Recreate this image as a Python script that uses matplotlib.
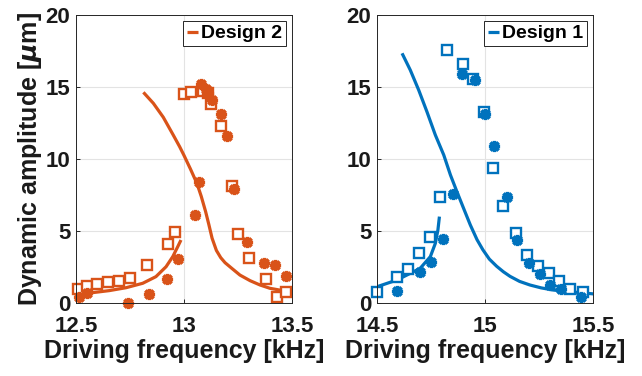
import matplotlib.pyplot as plt

plt.rcParams["font.family"] = ["Liberation Sans", "DejaVu Sans"]
plt.rcParams["font.weight"] = "bold"

orange = "#D95319"
blue = "#0072BD"

# Design 2 (left panel)
d2_sq_f = [12.511, 12.549, 12.599, 12.65, 12.70, 12.75, 12.83, 12.927, 12.96, 13.0, 13.032,
           13.09, 13.11, 13.125, 13.17, 13.22, 13.25, 13.30, 13.38, 13.43, 13.47]
d2_sq_a = [0.95, 1.18, 1.32, 1.43, 1.53, 1.71, 2.64, 4.07, 4.9, 14.49, 14.68,
           14.75, 14.55, 13.8, 12.29, 8.15, 4.79, 3.1, 1.64, 0.44, 0.79]
d2_st_f = [12.515, 12.55, 12.74, 12.84, 12.92, 12.97, 13.05, 13.07, 13.08, 13.10, 13.11,
           13.13, 13.17, 13.20, 13.23, 13.29, 13.37, 13.42, 13.47]
d2_st_a = [0.44, 0.67, 0.02, 0.6, 1.67, 3.05, 6.1, 8.43, 15.19, 14.84, 14.56,
           14.1, 13.1, 11.6, 7.9, 4.21, 2.75, 2.64, 1.9]
d2_lo_f = [12.49, 12.5, 12.577, 12.654, 12.731, 12.809, 12.87, 12.917, 12.948, 12.971, 12.986]
d2_lo_a = [0.55, 0.56, 0.72, 0.86, 1.06, 1.37, 1.83, 2.52, 3.22, 3.91, 4.375]
d2_up_f = [12.812, 12.858, 12.904, 12.95, 12.98, 13.0, 13.03, 13.06, 13.08, 13.10, 13.115,
           13.13, 13.15, 13.17, 13.19, 13.221, 13.259, 13.306, 13.352, 13.398, 13.45, 13.51]
d2_up_a = [14.63, 13.87, 12.9, 11.67, 10.85, 10.25, 9.3, 8.3, 7.4, 6.35, 5.45,
           4.5, 3.65, 3.15, 2.8, 2.41, 1.94, 1.55, 1.25, 1.02, 0.88, 0.77]

# Design 1 (right panel)
d1_sq_f = [14.50, 14.594, 14.645, 14.696, 14.745, 14.79, 14.823, 14.897, 14.943, 14.995,
           15.036, 15.085, 15.144, 15.193, 15.247, 15.296, 15.344, 15.394, 15.452]
d1_sq_a = [0.74, 1.83, 2.34, 3.45, 4.56, 7.34, 17.57, 16.57, 15.53, 13.29,
           9.35, 6.76, 4.84, 3.33, 2.59, 2.06, 1.53, 0.95, 0.79]
d1_st_f = [14.594, 14.70, 14.75, 14.804, 14.853, 14.892, 14.954, 15.0, 15.043, 15.10,
           15.15, 15.205, 15.255, 15.30, 15.35, 15.443]
d1_st_a = [0.86, 2.18, 2.87, 4.42, 7.55, 15.9, 15.49, 13.1, 10.9, 7.38,
           4.37, 2.75, 1.99, 1.25, 0.95, 0.4]
d1_lo_f = [14.49, 14.5, 14.593, 14.654, 14.70, 14.747, 14.77, 14.782, 14.789]
d1_lo_a = [1.1, 1.13, 1.6, 2.06, 2.41, 3.22, 4.14, 5.07, 6.0]
d1_up_f = [14.616, 14.654, 14.693, 14.731, 14.77, 14.809, 14.84, 14.87, 14.901, 14.932,
           14.963, 14.99, 15.02, 15.054, 15.085, 15.116, 15.16, 15.208, 15.26, 15.316,
           15.38, 15.44, 15.51]
d1_up_a = [17.34, 16.18, 14.79, 13.29, 11.67, 10.28, 8.89, 7.73, 6.57, 5.42,
           4.4, 3.7, 3.05, 2.55, 2.17, 1.85, 1.5, 1.25, 1.05, 0.9,
           0.8, 0.72, 0.62]

panels = [
    (d2_sq_f, d2_sq_a, d2_st_f, d2_st_a, d2_lo_f, d2_lo_a, d2_up_f, d2_up_a,
     orange, "Design 2", [12.5, 13, 13.5], ["12.5", "13", "13.5"]),
    (d1_sq_f, d1_sq_a, d1_st_f, d1_st_a, d1_lo_f, d1_lo_a, d1_up_f, d1_up_a,
     blue, "Design 1", [14.5, 15, 15.5], ["14.5", "15", "15.5"]),
]

fig = plt.figure(figsize=(6.42, 3.76), dpi=100)
rects = [[76 / 642, 73 / 376, 216 / 642, 288 / 376],
         [377 / 642, 73 / 376, 216 / 642, 288 / 376]]

for rect, (sqf, sqa, stf, sta, lof, loa, upf, upa, col, name, xt, xtl) in zip(rects, panels):
    ax = fig.add_axes(rect)
    ax.plot(lof, loa, color=col, lw=2.3, label=name, solid_joinstyle="round", solid_capstyle="butt")
    ax.plot(upf, upa, color=col, lw=2.3, solid_joinstyle="round", solid_capstyle="butt")
    ax.plot(sqf, sqa, ls="none", marker="s", ms=7.5, mfc="white", mec=col, mew=1.7, clip_on=False)
    ax.plot(stf, sta, ls="none", marker=(8, 2, 0), ms=8, color=col, mew=2.4, clip_on=False)
    ax.set_xlim(xt[0], xt[-1])
    ax.set_ylim(0, 20)
    ax.set_xticks(xt)
    ax.set_xticklabels(xtl)
    ax.set_yticks([0, 5, 10, 15, 20])
    ax.grid(True, color="#e3e3e3", lw=0.8)
    ax.set_axisbelow(True)
    ax.tick_params(direction="in", labelsize=16, length=3, width=0.7, colors="#262626",
                   labelcolor="#1a1a1a")
    ax.tick_params(axis="x", pad=9)
    ax.tick_params(axis="y", pad=4)
    for sp in ax.spines.values():
        sp.set_color("#262626")
        sp.set_linewidth(0.7)
    ax.set_xlabel("Driving frequency [kHz]", fontsize=18, fontweight="bold", labelpad=2,
                  color="#1a1a1a")
    leg = ax.legend(loc="upper right", fontsize=14, handlelength=0.6, handletextpad=0.15,
                    borderpad=0.2, fancybox=False, framealpha=1, borderaxespad=0.3)
    leg.get_frame().set_edgecolor("#262626")
    leg.get_frame().set_linewidth(0.7)
    if name == "Design 2":
        ax.set_ylabel("Dynamic amplitude [$\\mu$m]", fontsize=18, fontweight="bold", labelpad=1,
                      color="#1a1a1a")

fig.savefig("out.png", dpi=100)
